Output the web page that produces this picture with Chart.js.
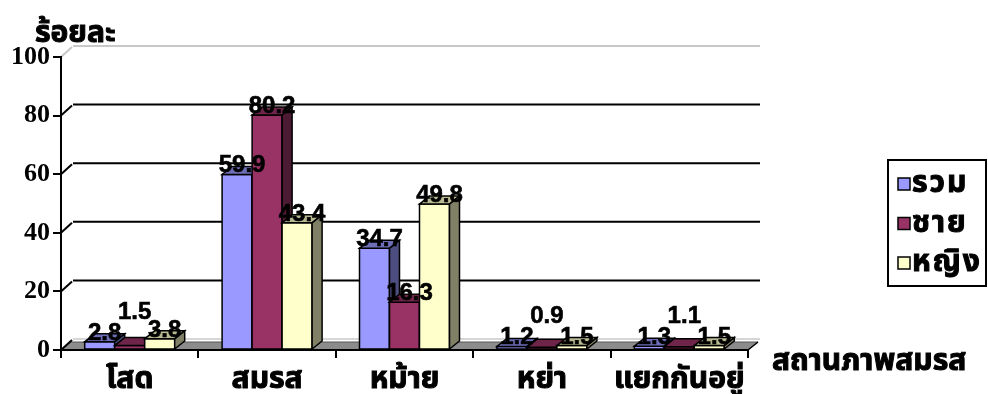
<!DOCTYPE html>
<html lang="th">
<head>
<meta charset="utf-8">
<title>สถานภาพสมรส</title>
<script src="https://cdn.jsdelivr.net/npm/chart.js@4.4.1/dist/chart.umd.min.js"></script>
<style>
  html, body { margin: 0; padding: 0; background: #fff; }
  canvas { display: block; }
</style>
</head>
<body>
<canvas id="chart" width="988" height="394"></canvas>
<script>
// Marital status distribution (percent)
const categories = ['โสด', 'สมรส', 'หม้าย', 'หย่า', 'แยกกันอยู่'];
const seriesNames = ['รวม', 'ชาย', 'หญิง'];
const totalValues = [2.8, 59.9, 34.7, 1.2, 1.3];
const maleValues = [1.5, 80.2, 16.3, 0.9, 1.1];
const femaleValues = [3.8, 43.4, 49.8, 1.5, 1.5];
const yTicks = [0, 20, 40, 60, 80, 100];
const yTitle = 'ร้อยละ';
const xTitle = 'สถานภาพสมรส';

const seriesColors = ['#9999FF', '#993366', '#FFFFCC'];
const THAI = "Tahoma, 'Noto Sans Thai', 'Leelawadee UI', 'Noto Sans', 'DejaVu Sans', sans-serif";

// 3-D geometry: bar depth and back-wall offset
const BAR_D = { dx: 10, dy: -8 };
const WALL_D = { dx: 12, dy: -11 };

function shade(hex, f) {
  const n = parseInt(hex.slice(1), 16);
  const r = Math.round(((n >> 16) & 255) * f);
  const g = Math.round(((n >> 8) & 255) * f);
  const b = Math.round((n & 255) * f);
  return `rgb(${r},${g},${b})`;
}

function poly(ctx, pts, fill) {
  ctx.beginPath();
  ctx.moveTo(pts[0][0], pts[0][1]);
  for (let i = 1; i < pts.length; i++) ctx.lineTo(pts[i][0], pts[i][1]);
  ctx.closePath();
  if (fill) { ctx.fillStyle = fill; ctx.fill(); }
  ctx.stroke();
}

// heavy Thai text: fill plus a thin stroke of the same colour
function boldText(ctx, txt, x, y) {
  ctx.lineWidth = 1;
  ctx.strokeStyle = '#000';
  ctx.fillText(txt, x, y);
  ctx.strokeText(txt, x, y);
}

const chart3d = {
  id: 'chart3d',
  beforeDraw(chart) {
    const { ctx, chartArea: a, scales: { y } } = chart;
    ctx.save();
    ctx.fillStyle = '#fff';
    ctx.fillRect(0, 0, chart.width, chart.height);

    // floor slab
    ctx.lineWidth = 1;
    ctx.strokeStyle = '#555';
    poly(ctx, [[a.left, a.bottom], [a.right, a.bottom],
               [a.right + BAR_D.dx, a.bottom + BAR_D.dy], [a.left + BAR_D.dx, a.bottom + BAR_D.dy]], '#8c8c8c');
    ctx.strokeStyle = '#c8c8c8';
    ctx.lineWidth = 1.5;
    ctx.beginPath();
    ctx.moveTo(a.left + WALL_D.dx, a.bottom + WALL_D.dy);
    ctx.lineTo(a.right + WALL_D.dx, a.bottom + WALL_D.dy);
    ctx.stroke();

    // back-wall gridlines and side-wall diagonals
    yTicks.forEach(v => {
      const py = y.getPixelForValue(v);
      const top = v === y.max;
      ctx.strokeStyle = top ? '#c8c8c8' : '#000';
      ctx.lineWidth = 2;
      if (v !== 0) {
        ctx.beginPath();
        ctx.moveTo(a.left + WALL_D.dx, py + WALL_D.dy);
        ctx.lineTo(a.right + WALL_D.dx, py + WALL_D.dy);
        ctx.stroke();
      }
      ctx.beginPath();
      ctx.moveTo(a.left, py);
      ctx.lineTo(a.left + WALL_D.dx - 1, py + WALL_D.dy + 1);
      ctx.stroke();
    });
    // right end of floor
    ctx.strokeStyle = '#000';
    ctx.lineWidth = 1.5;
    ctx.beginPath();
    ctx.moveTo(a.right, a.bottom);
    ctx.lineTo(a.right + BAR_D.dx, a.bottom + BAR_D.dy);
    ctx.stroke();
    ctx.restore();
  },
  beforeDatasetDraw() {
    return false; // boxes are drawn in afterDatasetsDraw
  },
  afterDatasetsDraw(chart) {
    const { ctx } = chart;
    const metas = chart.data.datasets.map((d, i) => chart.getDatasetMeta(i));
    ctx.save();
    ctx.lineWidth = 1.5;
    ctx.strokeStyle = '#000';
    ctx.lineJoin = 'miter';
    categories.forEach((c, ci) => {
      metas.forEach((meta, di) => {
        const el = meta.data[ci];
        const col = chart.data.datasets[di].backgroundColor;
        const L = el.x - el.width / 2, R = el.x + el.width / 2;
        const T = el.y, B = el.base;
        poly(ctx, [[L, B], [L, T], [R, T], [R, B]], col);
        poly(ctx, [[L, T], [R, T], [R + BAR_D.dx, T + BAR_D.dy], [L + BAR_D.dx, T + BAR_D.dy]], shade(col, 0.72));
        poly(ctx, [[R, T], [R + BAR_D.dx, T + BAR_D.dy], [R + BAR_D.dx, B + BAR_D.dy], [R, B]], shade(col, 0.5));
      });
    });

    // value labels; one that collides with a neighbour is lifted above it
    ctx.font = "bold 24px 'Liberation Sans', Arial, sans-serif";
    ctx.fillStyle = '#000';
    ctx.textAlign = 'center';
    ctx.textBaseline = 'alphabetic';
    const capH = 17;
    categories.forEach((c, ci) => {
      const placed = [];
      metas.forEach((meta, di) => {
        const el = meta.data[ci];
        const val = chart.data.datasets[di].data[ci];
        const txt = String(val);
        const w = ctx.measureText(txt).width;
        const cx = el.x + BAR_D.dx / 2;
        let base = el.y - 2;
        const box = () => ({ l: cx - w / 2, r: cx + w / 2, t: base - capH, b: base });
        let bx = box();
        let lifted = false;
        placed.forEach(p => {
          if (!p.lifted && bx.r > p.l && bx.l < p.r && bx.b > p.t && bx.t < p.b) {
            base = p.t - 4;
            bx = box();
            lifted = true;
          }
        });
        bx.lifted = lifted;
        placed.push(bx);
        ctx.lineWidth = 0.6;
        ctx.strokeStyle = '#000';
        ctx.fillText(txt, cx, base);
        ctx.strokeText(txt, cx, base);
      });
    });
    ctx.restore();
  },
  afterDraw(chart) {
    const { ctx, chartArea: a } = chart;
    ctx.save();
    ctx.fillStyle = '#000';
    ctx.textBaseline = 'alphabetic';
    ctx.font = `bold 30px ${THAI}`;
    ctx.textAlign = 'left';
    boldText(ctx, yTitle, 35, 42);
    boldText(ctx, xTitle, a.right + 24, 370);

    // legend
    const lx = 888, ly = 160, lw = 98, lh = 126;
    ctx.lineWidth = 2;
    ctx.strokeStyle = '#000';
    ctx.fillStyle = '#fff';
    ctx.fillRect(lx, ly, lw, lh);
    ctx.strokeRect(lx, ly, lw, lh);
    ctx.letterSpacing = '2px';
    chart.data.datasets.forEach((ds, i) => {
      const cy = 184 + i * 39.5;
      ctx.lineWidth = 1.5;
      ctx.strokeStyle = '#000';
      ctx.fillStyle = ds.backgroundColor;
      ctx.fillRect(898, cy - 6, 12, 12);
      ctx.strokeRect(898, cy - 6, 12, 12);
      ctx.fillStyle = '#000';
      ctx.textBaseline = 'alphabetic';
      boldText(ctx, ds.label, 912, cy + 8);
    });
    ctx.restore();
  }
};

const seriesValues = [totalValues, maleValues, femaleValues];

new Chart(document.getElementById('chart'), {
  type: 'bar',
  data: {
    labels: categories,
    datasets: seriesNames.map((name, i) => ({
      label: name,
      data: seriesValues[i],
      backgroundColor: seriesColors[i],
      borderColor: '#000',
      borderWidth: 1.5,
      categoryPercentage: 0.655,
      barPercentage: 1.0
    }))
  },
  options: {
    responsive: false,
    animation: false,
    layout: { padding: { top: 57, right: 240, left: 0, bottom: 0 }, autoPadding: false },
    plugins: { legend: { display: false }, tooltip: { enabled: false }, title: { display: false } },
    scales: {
      x: {
        grid: { offset: true, drawOnChartArea: false, drawTicks: true, tickLength: 8, color: '#000', lineWidth: 2 },
        border: { display: true, color: '#000', width: 2 },
        ticks: {
          font: { family: THAI, size: 30, weight: 'bold' }, color: '#000', padding: 6,
          textStrokeColor: '#000', textStrokeWidth: 1, maxRotation: 0, autoSkip: false
        },
        afterFit(s) { s.height = 44; }
      },
      y: {
        min: 0, max: 100,
        afterBuildTicks(s) { s.ticks = yTicks.map(v => ({ value: v })); },
        ticks: { font: { family: "'Liberation Serif', 'Times New Roman', serif", size: 26, weight: 'bold' }, color: '#000', padding: 3 },
        grid: { drawOnChartArea: false, drawTicks: true, tickLength: 8, color: '#000', lineWidth: 2 },
        border: { display: true, color: '#000', width: 2 },
        afterFit(s) { s.width = 61; }
      }
    }
  },
  plugins: [chart3d]
});
</script>
</body>
</html>
